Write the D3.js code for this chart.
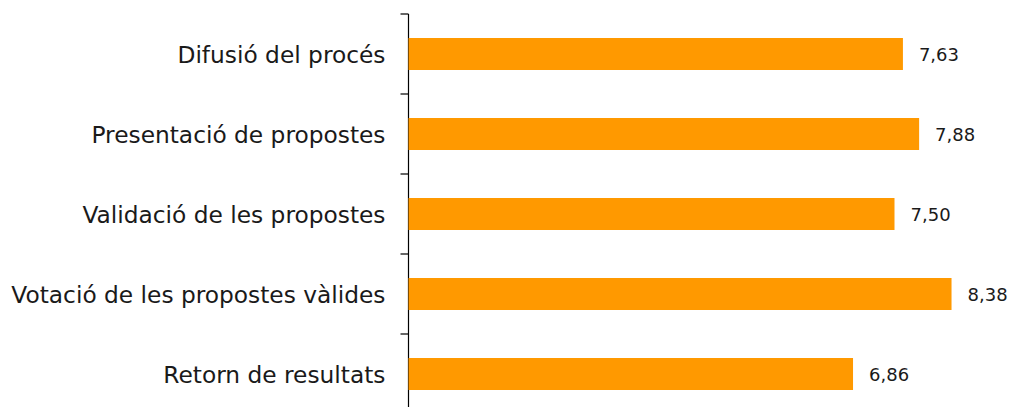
<!DOCTYPE html>
<html>
<head>
<meta charset="utf-8">
<script src="https://cdn.jsdelivr.net/npm/d3@7"></script>
<style>
  body { margin: 0; background: #fff; }
  text { font-family: "DejaVu Sans", sans-serif; fill: #1a1a1a; }
</style>
</head>
<body>
<div id="chart"></div>
<script>
const categories = [
  "Difusió del procés",
  "Presentació de propostes",
  "Validació de les propostes",
  "Votació de les propostes vàlides",
  "Retorn de resultats"
];
const values = [7.63, 7.88, 7.50, 8.38, 6.86];
const valueLabels = ["7,63", "7,88", "7,50", "8,38", "6,86"];

const w = 1011, h = 407;
const axisX = 408.5;

const svg = d3.select("#chart").append("svg")
  .attr("width", w)
  .attr("height", h);

const xSc = d3.scaleLinear()
  .domain([0, 10])
  .range([axisX, axisX + 648]);

const ySc = d3.scaleBand()
  .domain(categories)
  .range([14, 414])
  .paddingInner(0.6)
  .paddingOuter(0.3);

const step = ySc.step();

// axis line + ticks between categories
svg.append("line")
  .attr("x1", axisX).attr("x2", axisX)
  .attr("y1", 14).attr("y2", h)
  .attr("stroke", "#000").attr("stroke-width", 1.2);

svg.selectAll(".tick")
  .data(d3.range(categories.length + 1))
  .join("line")
    .attr("class", "tick")
    .attr("x1", axisX - 8).attr("x2", axisX)
    .attr("y1", i => 14 + i * step).attr("y2", i => 14 + i * step)
    .attr("stroke", "#000").attr("stroke-width", 1.2);

svg.selectAll(".bar")
  .data(values)
  .join("rect")
    .attr("class", "bar")
    .attr("x", xSc(0))
    .attr("y", (d, i) => ySc(categories[i]))
    .attr("width", d => xSc(d) - xSc(0))
    .attr("height", ySc.bandwidth())
    .attr("fill", "#ff9900");

svg.selectAll(".cat")
  .data(categories)
  .join("text")
    .attr("class", "cat")
    .attr("x", axisX - 23)
    .attr("y", d => ySc(d) + ySc.bandwidth() / 2 + 8.5)
    .attr("text-anchor", "end")
    .style("font-size", "23.3px")
    .text(d => d);

svg.selectAll(".val")
  .data(values)
  .join("text")
    .attr("class", "val")
    .attr("x", d => xSc(d) + 16)
    .attr("y", (d, i) => ySc(categories[i]) + ySc.bandwidth() / 2 + 6.5)
    .style("font-size", "18px")
    .text((d, i) => valueLabels[i]);
</script>
</body>
</html>
